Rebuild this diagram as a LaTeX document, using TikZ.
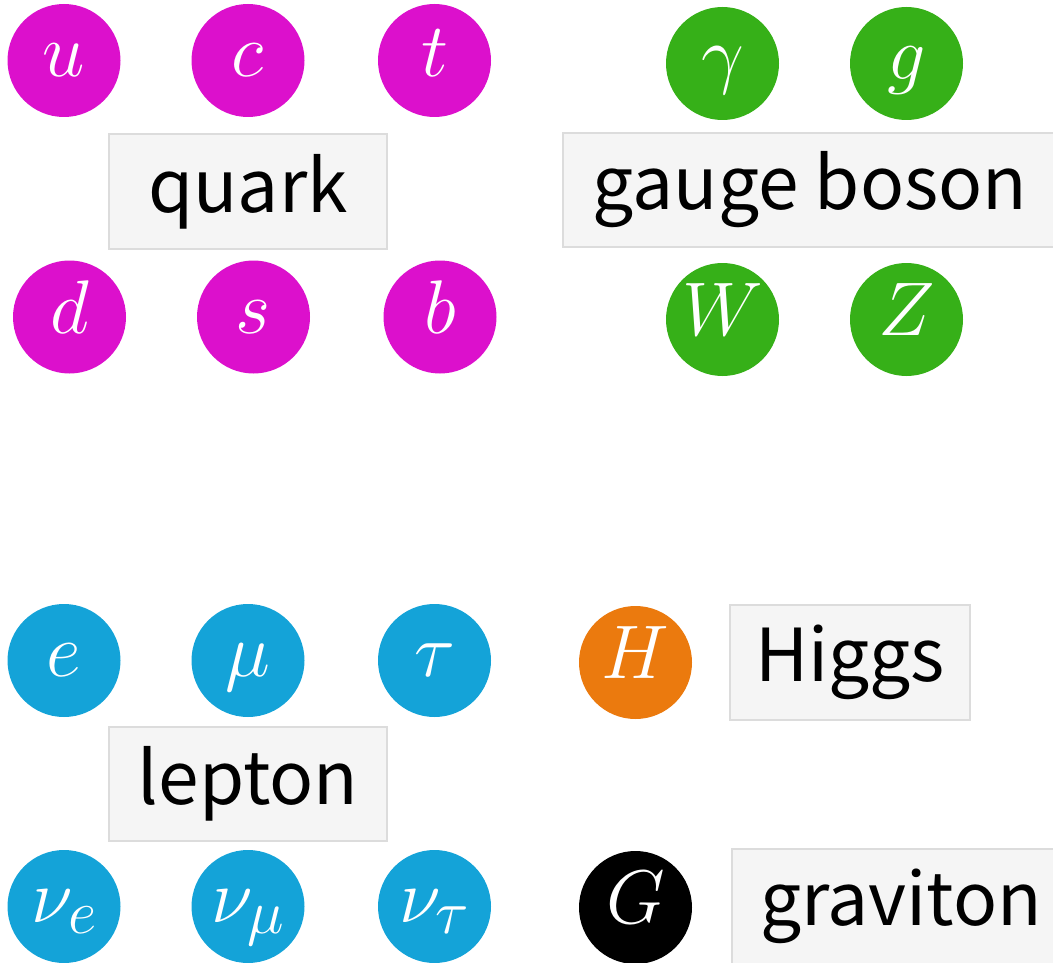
\RequirePackage{fix-cm}
\documentclass[tikz,border=0pt]{standalone}
\usepackage{fontspec}
\newfontfamily\labelfont{Noto Sans CJK JP}
\definecolor{quarkc}{RGB}{220,16,204}
\definecolor{bosonc}{RGB}{54,176,24}
\definecolor{leptonc}{RGB}{20,163,216}
\definecolor{higgsc}{RGB}{235,122,14}
\definecolor{boxfill}{RGB}{245,245,245}
\definecolor{boxline}{RGB}{220,220,220}
\newcommand{\subsz}[1]{\mbox{\fontsize{62}{66}\selectfont$#1$}}
\begin{document}
\begin{tikzpicture}[x=1pt,y=-1pt,
  particle/.style={circle,minimum size=113pt,inner sep=0pt,text=white,
    text height=40pt,text depth=8pt,font=\fontsize{76}{80}\selectfont},
  catbox/.style={draw=boxline,fill=boxfill,line width=2.5pt,inner sep=0pt,text=black,font=\labelfont\fontsize{73}{88}\selectfont}]
\useasboundingbox (0,0) rectangle (1053,963);
% quarks
\node[particle,fill=quarkc] (u) at (64,60.5) {$u$};
\node[particle,fill=quarkc] (c) at (248,60.5) {$c$};
\node[particle,fill=quarkc] (t) at (434.5,60.5) {$t$};
\node[particle,fill=quarkc] (d) at (69.5,317) {$d$};
\node[particle,fill=quarkc] (s) at (253.5,317) {$s$};
\node[particle,fill=quarkc] (b) at (440,317) {$b$};
\node[catbox,minimum width=278pt,minimum height=115pt] (quark) at (248,191.5) {quark};
% gauge bosons
\node[particle,fill=bosonc] (gamma) at (722.5,63.5) {$\gamma$};
\node[particle,fill=bosonc] (g) at (906.5,63.5) {$g$};
\node[particle,fill=bosonc] (W) at (722.5,319.5) {$W$};
\node[particle,fill=bosonc] (Z) at (906.5,319.5) {$Z$};
\node[catbox,minimum width=494pt,minimum height=114pt] (gauge) at (810,190) {gauge boson};
% leptons
\node[particle,fill=leptonc] (e) at (64,660.5) {$e$};
\node[particle,fill=leptonc] (mu) at (248,660.5) {$\mu$};
\node[particle,fill=leptonc] (tau) at (434.5,660.5) {$\tau$};
\node[particle,fill=leptonc] (nue) at (64,906.5) {$\nu_{\subsz{e}}$};
\node[particle,fill=leptonc] (numu) at (248,906.5) {$\nu_{\subsz{\mu}}$};
\node[particle,fill=leptonc] (nutau) at (434.5,906.5) {$\nu_{\subsz{\tau}}$};
\node[catbox,minimum width=278pt,minimum height=114pt] (lepton) at (248,784) {lepton};
% Higgs
\node[particle,fill=higgsc] (H) at (635.5,662.5) {$H$};
\node[catbox,minimum width=240pt,minimum height=115pt] (higgs) at (850,662.5) {Higgs};
% graviton
\node[particle,fill=black] (G) at (635.5,907.5) {$G$};
\node[catbox,minimum width=338pt,minimum height=115pt] (graviton) at (901,906.5) {graviton};
\end{tikzpicture}
\end{document}
